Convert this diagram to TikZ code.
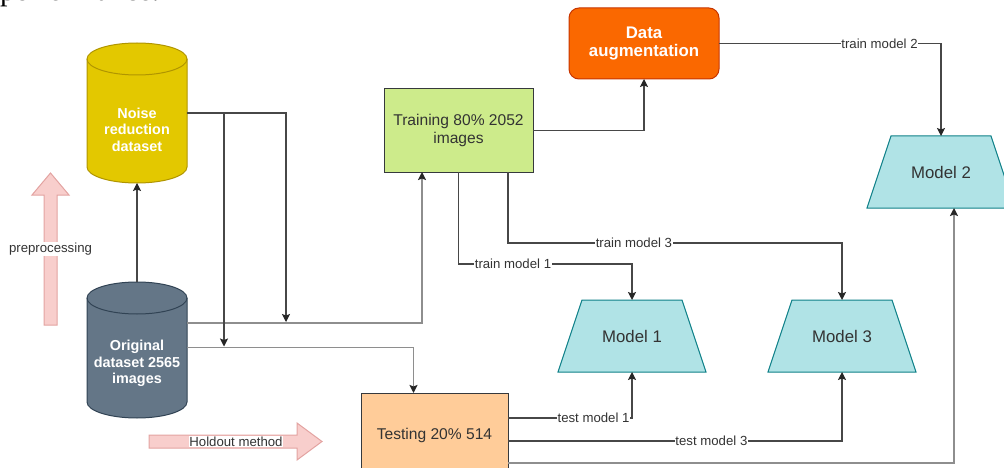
\documentclass[tikz,border=0pt]{standalone}
\usepackage{fontspec}
\setmainfont{Liberation Sans}
\newfontfamily\bodyserif{Liberation Serif}
\usetikzlibrary{arrows.meta,calc}

\definecolor{noisefill}{HTML}{E3C800}
\definecolor{noiseline}{HTML}{B09500}
\definecolor{origfill}{HTML}{647687}
\definecolor{origline}{HTML}{314354}
\definecolor{trainfill}{HTML}{CDEB8B}
\definecolor{testfill}{HTML}{FFCC99}
\definecolor{boxline}{HTML}{36393D}
\definecolor{augfill}{HTML}{FA6800}
\definecolor{augline}{HTML}{C73500}
\definecolor{modelfill}{HTML}{B0E3E6}
\definecolor{modelline}{HTML}{0E8088}
\definecolor{pinkfill}{HTML}{F8CECC}
\definecolor{pinkline}{HTML}{E3A3A1}
\definecolor{wire}{HTML}{474747}
\definecolor{wirelight}{HTML}{8E8E8E}
\definecolor{ink}{HTML}{333333}

% database drum drawn over an invisible anchor box
\newcommand\cylinderbody[5]{% node name, x radius, y radius, fill, stroke
  \path[fill=#4, draw=#5, line width=1pt]
    ($(#1.north west)+(0,#3)$) -- ($(#1.south west)+(0,-#3)$)
    arc[start angle=180, end angle=0, x radius=#2, y radius=#3]
    -- ($(#1.north east)+(0,#3)$)
    arc[start angle=0, end angle=-180, x radius=#2, y radius=#3] -- cycle;
  \draw[draw=#5, line width=1pt] ($(#1.north west)+(0,#3)$)
    arc[start angle=180, end angle=0, x radius=#2, y radius=#3];
}

% trapezoid (narrow side up) drawn over an invisible anchor box
\newcommand\trapezoidbody[2]{% node name, horizontal inset of the top edge
  \path[fill=modelfill, draw=modelline, line width=1pt, line join=miter]
    (#1.south west) -- ($(#1.north west)+(#2,0)$) -- ($(#1.north east)+(-#2,0)$)
    -- (#1.south east) -- cycle;
}

\begin{document}
\begin{tikzpicture}[x=1pt,y=-1pt,
  anchorbox/.style={rectangle, inner sep=0pt, outer sep=0pt},
  cyltext/.style={text=white, align=center, font=\bfseries\fontsize{14.4}{16.5}\selectfont},
  box/.style={rectangle, draw=boxline, line width=1pt, inner sep=2pt, outer sep=0pt,
    align=center, text=ink, font=\fontsize{15.6}{18}\selectfont},
  modeltext/.style={text=ink, font=\fontsize{16.8}{18}\selectfont},
  conn/.style={draw=wire, line width=1.1pt,
    -{Stealth[length=8pt,width=8pt,inset=1.5pt,color=black!85]}},
  connlight/.style={conn, draw=wirelight, line width=1.8pt},
  lbl/.style={fill=white, inner sep=0.8pt, text=ink, font=\fontsize{13.2}{14}\selectfont},
  pinkarrow/.style={fill=pinkfill, draw=pinkline, line width=1pt, line join=miter}
]
\useasboundingbox (0,0) rectangle (1004,468);
\clip (0,0) rectangle (1004,468);

% line of running text above the figure
\node[anchor=base west, inner sep=0pt, font=\bodyserif\fontsize{30}{30}\selectfont] (fragment) at (0,0.5) {performance.};

% helper rows and columns for the orthogonal connectors
\coordinate (rowA) at (0,323);
\coordinate (rowB) at (0,347.5);
\coordinate (colA) at (422,0);
\coordinate (colB) at (413.5,0);
\coordinate (rowT1) at (0,264);
\coordinate (rowT3) at (0,243);
\coordinate (colT3) at (508,0);
\coordinate (rowS1) at (0,418);
\coordinate (rowS3) at (0,441);
\coordinate (rowS2) at (0,463);
\coordinate (colM2) at (954,0);
\coordinate (dropA) at (286,322);
\coordinate (dropB) at (224,346.5);

% datasets
\node[anchorbox, minimum width=100pt, minimum height=140pt] (noise) at (137,113) {};
\node[anchorbox, minimum width=100pt, minimum height=136pt] (orig) at (137,350) {};
\cylinderbody{noise}{50}{16}{noisefill}{noiseline}
\cylinderbody{orig}{50}{16}{origfill}{origline}
\node[cyltext] (noisetext) at (137,129.5) {Noise\\reduction\\dataset};
\node[cyltext] (origtext) at (137,363.5) {Original\\dataset 2565\\images};

% splits and augmentation
\node[box, fill=trainfill, minimum width=149pt, minimum height=83pt] (train) at (458.5,130.5) {Training 80\% 2052\\images};
\node[box, fill=testfill, minimum width=147pt, minimum height=84pt] (test) at (434.5,435) {Testing 20\% 514};
\node[box, fill=augfill, draw=augline, rounded corners=10pt, minimum width=150pt, minimum height=71pt,
  text=white, font=\bfseries\fontsize{16.8}{18}\selectfont] (aug) at (644,43.5) {Data\\augmentation};

% models
\node[anchorbox, minimum width=148pt, minimum height=72pt] (m1) at (632,336) {};
\node[anchorbox, minimum width=148pt, minimum height=72pt] (m3) at (842,336) {};
\node[anchorbox, minimum width=148pt, minimum height=72pt] (m2) at (941,172) {};
\trapezoidbody{m1}{24}
\trapezoidbody{m3}{24}
\trapezoidbody{m2}{24}
\node[modeltext] (m1text) at (m1) {Model 1};
\node[modeltext] (m3text) at (m3) {Model 3};
\node[modeltext] (m2text) at (m2) {Model 2};

% block arrows
\path[pinkarrow] (44,325) -- (44,195) -- (32,195) -- (50.5,173) -- (69,195) -- (57,195) -- (57,325) -- cycle;
\node[lbl] (prep) at (50.5,249) {preprocessing};
\path[pinkarrow] (149,435) -- (297,435) -- (297,423) -- (322,441.5) -- (297,460) -- (297,448) -- (149,448) -- cycle;
\node[lbl] (holdout) at (236,441.5) {Holdout method};

% connectors
\draw[conn] (orig.north) -- (noise.south);
\draw[connlight] (orig.east |- rowA) -| (train.south -| colA);
\draw[connlight] (orig.east |- rowB) -| (test.north -| colB);
\draw[conn] (noise.east) -| (dropA);
\draw[conn] (noise.east) -| (dropB);
\draw[conn] (train.east) -| (aug.south);
\draw[conn] (aug.east) -- node[lbl, pos=0.723] {train model 2} (aug.east -| m2.north) -- (m2.north);
\draw[conn] (train.south) -- (train.south |- rowT1)
  -- node[lbl, pos=0.314] {train model 1} (m1.north |- rowT1) -- (m1.north);
\draw[conn] (train.south -| colT3) -- (colT3 |- rowT3)
  -- node[lbl, pos=0.377] {train model 3} (m3.north |- rowT3) -- (m3.north);
\draw[conn] (test.east |- rowS1) -- node[lbl, pos=0.69] {test model 1} (m1.south |- rowS1) -- (m1.south);
\draw[conn] (test.east |- rowS3) -- node[lbl, pos=0.609] {test model 3} (m3.south |- rowS3) -- (m3.south);
\draw[connlight] (test.east |- rowS2) -- (colM2 |- rowS2) -- (colM2 |- m2.south);
\end{tikzpicture}
\end{document}
